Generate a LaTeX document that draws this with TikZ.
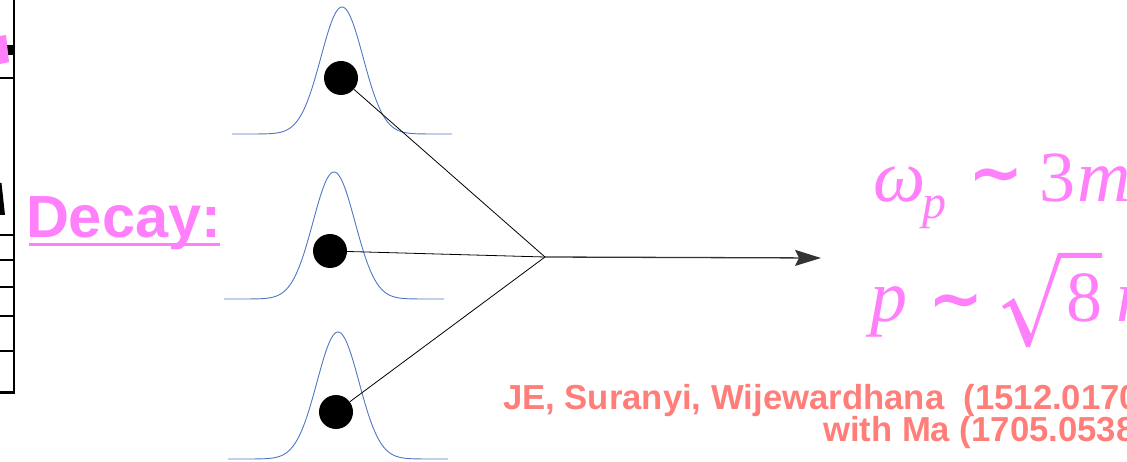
\documentclass[tikz,border=0pt]{standalone}
\usepackage{fontspec}
\usetikzlibrary{arrows.meta}
\newfontfamily\lsans{Liberation Sans}
\newfontfamily\lserif{Liberation Serif}
\newfontfamily\dvsans{DejaVu Sans}
\definecolor{pinkc}{RGB}{255,128,250}
\definecolor{salmonc}{RGB}{255,126,121}
\definecolor{gaussc}{RGB}{80,118,196}
\tikzset{
  gauss/.style={draw=gaussc, line width=0.9pt},
  dot/.style={circle, fill=black, draw=none, minimum size=34pt, inner sep=0pt},
  feed/.style={draw=black, line width=0.8pt},
  outarrow/.style={draw=black!80, line width=1.3pt, -{Stealth[length=26pt,width=16pt,inset=4pt]}},
  tabline/.style={draw=black, line width=2pt},
  txt/.style={anchor=base west, inner sep=0pt, outer sep=0pt},
  glyph/.style={anchor=base, inner sep=0pt, outer sep=0pt, text=pinkc},
  bigit/.style={font=\fontsize{74}{80}\selectfont\lserif\itshape},
  bigup/.style={font=\fontsize{72}{80}\selectfont\lserif},
  tildef/.style={font=\fontsize{66}{70}\selectfont\dvsans\bfseries},
  cite/.style={txt, text=salmonc, font=\fontsize{34.7}{36}\selectfont\lsans\bfseries}
}
\begin{document}
\begin{tikzpicture}[x=1pt,y=-1pt]
\useasboundingbox (0,0) rectangle (1127,462);
\clip (0,0) rectangle (1127,462);
% left table fragment
\draw[tabline, line width=2.5pt] (14,0) -- (14,393);
\foreach \yy in {78,235,260,287,316,351} \draw[tabline] (0,\yy) -- (14,\yy);
\draw[tabline, line width=3pt] (0,392) -- (15.2,392);
\fill[black] (7,45) rectangle (14,55);
\fill[pinkc] (0,36) -- (6,35) -- (9,62) -- (0,64) -- cycle;
\fill[black] (0,183) -- (1.5,183) -- (5,215) -- (0,215) -- cycle;
% Decay label
\node[txt, text=pinkc] (decay) at (26,238) {\fontsize{59.5}{62}\selectfont\lsans\bfseries Decay:};
\draw[draw=pinkc, line width=3pt] (29,245) -- (220,245);
% gaussians
\foreach \cx/\by in {342/134, 334/299, 338/459}
  \draw[gauss] plot[domain=-110:110, samples=141, smooth] ({\cx+\x},{\by-127*exp(-(\x*\x)/882)});
% particles
\node[dot] (d1) at (341,78) {};
\node[dot] (d2) at (330,251) {};
\node[dot] (d3) at (336,412) {};
\coordinate (J) at (545,257);
\coordinate (E) at (821,258);
\draw[feed] (d1) -- (J);
\draw[feed] (d2) -- (J);
\draw[feed] (d3) -- (J);
\draw[outarrow] (J) -- (E);
% formula line 1: omega_p ~ 3m
\node[glyph, bigit] (om) at (900,202) {ω};
\node[glyph, font=\fontsize{48}{50}\selectfont\lserif\itshape] (sp) at (934,219) {p};
\node[glyph, tildef] (t1) at (996,196) {∼};
\node[glyph, bigup] (th) at (1057,202) {3};
\node[txt, bigit, text=pinkc] (m1) at (1077,202) {m};
% formula line 2: p ~ sqrt(8) m
\node[glyph, bigit] (p2) at (889,322) {p};
\node[glyph, tildef] (t2) at (956,321) {∼};
\fill[pinkc] (1002,306) -- (1014,298) -- (1031,334) -- (1058,253) -- (1102,253) -- (1102,258) -- (1061,258) -- (1030,347) -- (1026,347) -- (1010,306) -- (1004,309) -- cycle;
\node[glyph, bigup] (eight) at (1084,322) {8};
\node[txt, bigit, text=pinkc] (m2) at (1116,322) {m};
% citation
\node[cite] (c1) at (503,409) {JE, Suranyi, Wijewardhana\ \ (1512.0170};
\node[cite] (c2) at (823,441) {with Ma (1705.0538};
\end{tikzpicture}
\end{document}
